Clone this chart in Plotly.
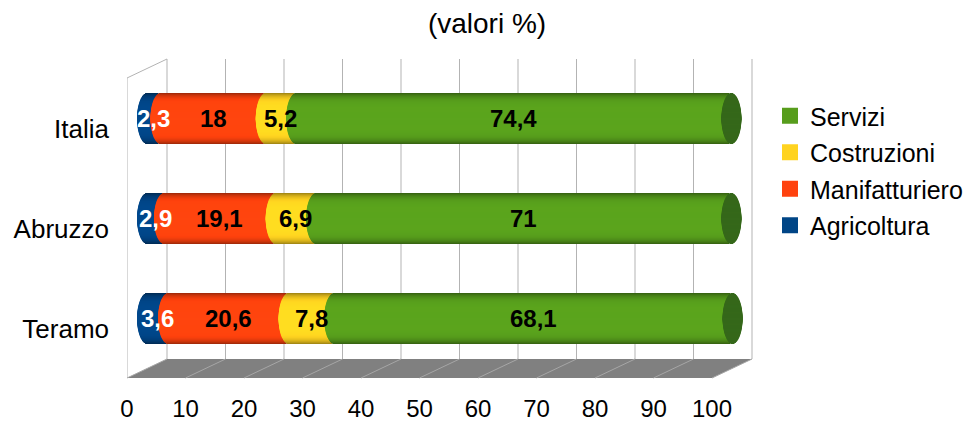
import numpy as np
import plotly.graph_objects as go

# ---- data -------------------------------------------------------------
categories = ["Teramo", "Abruzzo", "Italia"]          # bottom -> top
series_names = ["Agricoltura", "Manifatturiero", "Costruzioni", "Servizi"]
agricoltura = [3.6, 2.9, 2.3]
manifatturiero = [20.6, 19.1, 18.0]
costruzioni = [7.8, 6.9, 5.2]
servizi = [68.1, 71.0, 74.4]
x_ticks = list(range(0, 101, 10))
title_text = "(valori %)"

series_values = [agricoltura, manifatturiero, costruzioni, servizi]

# ---- styles -----------------------------------------------------------
FONT = "Liberation Sans"
base_colors = ["#004586", "#ff420e", "#ffd320", "#579d1c"]
label_colors = ["white", "black", "black", "black"]
cap_color = "#35681a"
wall_color = "#b3b3b3"
floor_color = "#808080"
floor_line_color = "#a6a6a6"

# ---- geometry (pixels) -----------------------------------------------
W, H = 965, 423
M_L, M_R, M_T, M_B = 127, 212, 59, 45
PLOT_W = W - M_L - M_R
PLOT_H = H - M_T - M_B
PX_PER_UNIT = 5.85          # horizontal scale of the value axis
HALF_DEPTH_X = 20           # mid-plane offset from the front plane
DEPTH_Y = 19                # full vertical depth of the box
CAP_A_PX = 10               # horizontal semi-axis of the cylinder ends
BAR_W = 0.51                # bar thickness in category units
N_LEVELS = 26               # nested slices that build the cylinder shading

d = HALF_DEPTH_X / PX_PER_UNIT
x_lo = -d
x_hi = x_lo + PLOT_W / PX_PER_UNIT
fd = DEPTH_Y / PLOT_H
cap_a = CAP_A_PX / PX_PER_UNIT


def hex_to_rgb(h):
    h = h.lstrip("#")
    return np.array([int(h[i:i + 2], 16) for i in (0, 2, 4)], dtype=float)


def shade(hex_color, t):
    """Cylinder shading: bright centre, darker towards the rims."""
    m = 1.05 - 0.45 * t ** 6
    rgb = np.clip(hex_to_rgb(hex_color) * m, 0, 255).astype(int)
    return "rgb({},{},{})".format(*rgb)


fig = go.Figure()

# legend entries (listed top to bottom)
for name, col in reversed(list(zip(series_names, base_colors))):
    fig.add_trace(go.Scatter(
        x=[None], y=[None], mode="markers", name=name, legendgroup=name,
        marker=dict(symbol="square", size=16, color=col),
    ))

starts = np.zeros(len(categories))
levels = [(N_LEVELS - i) / N_LEVELS for i in range(N_LEVELS)]   # outer -> inner
step = 1.0 / N_LEVELS

for name, vals, col in zip(series_names, series_values, base_colors):
    vals = np.array(vals, dtype=float)
    for frac in levels:
        t = max(frac - step / 2, 0)
        dh = cap_a * np.sqrt(max(1 - t ** 2, 0))
        fig.add_trace(go.Bar(
            orientation="h",
            y=categories,
            x=vals,
            base=starts - dh,
            width=BAR_W * frac,
            marker=dict(color=shade(col, t), line=dict(width=0)),
            legendgroup=name,
            showlegend=False,
            hoverinfo="skip",
        ))
    starts = starts + vals

totals = starts.copy()
for frac in levels:
    t = max(frac - step / 2, 0)
    dh = cap_a * np.sqrt(max(1 - t ** 2, 0))
    fig.add_trace(go.Bar(
        orientation="h",
        y=categories,
        x=np.full(len(categories), 2 * dh),
        base=totals - dh,
        width=BAR_W * frac,
        marker=dict(color=cap_color, line=dict(width=0)),
        legendgroup="Servizi",
        showlegend=False,
        hoverinfo="skip",
    ))

# value labels
annotations = []
starts = np.zeros(len(categories))
for vals, lc in zip(series_values, label_colors):
    for cat, s, v in zip(categories, starts, vals):
        annotations.append(dict(
            x=s + v / 2, y=cat, xref="x", yref="y",
            text="<b>{}</b>".format(f"{v:g}".replace(".", ",")),
            showarrow=False, font=dict(family=FONT, size=24, color=lc),
        ))
    starts = starts + np.array(vals)

# 3D box: back wall grid, left wall, floor
shapes = []
shapes.append(dict(
    type="path", xref="x", yref="paper", layer="below",
    path=f"M {-d},0 L {d},{fd} L {100 + d},{fd} L {100 - d},0 Z",
    fillcolor=floor_color, line=dict(width=0),
))
for v in x_ticks:
    shapes.append(dict(type="line", xref="x", yref="paper", layer="below",
                       x0=v + d, x1=v + d, y0=fd, y1=1,
                       line=dict(color=wall_color, width=1)))
    shapes.append(dict(type="line", xref="x", yref="paper", layer="below",
                       x0=v - d, x1=v + d, y0=0, y1=fd,
                       line=dict(color=floor_line_color, width=1)))
shapes.append(dict(type="line", xref="x", yref="paper", layer="below",
                   x0=-d, x1=-d, y0=0, y1=1 - fd,
                   line=dict(color=wall_color, width=1)))
shapes.append(dict(type="line", xref="x", yref="paper", layer="below",
                   x0=-d, x1=d, y0=1 - fd, y1=1,
                   line=dict(color=wall_color, width=1)))

fig.update_layout(
    width=W, height=H,
    margin=dict(l=M_L, r=M_R, t=M_T, b=M_B, pad=0, autoexpand=False),
    paper_bgcolor="white", plot_bgcolor="rgba(0,0,0,0)",
    barmode="overlay",
    font=dict(family=FONT, color="black"),
    title=dict(text=title_text, x=487 / W, xref="container", xanchor="center",
               y=1 - 23 / H, yref="container", yanchor="middle",
               font=dict(family=FONT, size=28, color="black")),
    xaxis=dict(range=[x_lo, x_hi], showgrid=False, zeroline=False,
               showticklabels=False, showline=False, fixedrange=True,
               automargin=False),
    xaxis2=dict(range=[x_lo + d, x_hi + d], overlaying="x", anchor="y",
                side="bottom", tickmode="array", tickvals=x_ticks,
                ticktext=[str(v) for v in x_ticks], showgrid=False,
                zeroline=False, showline=False, ticks="",
                ticklabelstandoff=14, automargin=False,
                tickfont=dict(family=FONT, size=24, color="black")),
    yaxis=dict(type="category", categoryorder="array", categoryarray=categories,
               range=[-0.595, 2.595], showgrid=False, zeroline=False,
               showline=False, ticks="", ticklabelshift=10,
               ticklabelstandoff=17, automargin=False,
               tickfont=dict(family=FONT, size=26, color="black")),
    legend=dict(x=(770 - M_L) / PLOT_W, xanchor="left",
                y=(PLOT_H + M_T - 93) / PLOT_H, yanchor="top",
                traceorder="grouped", tracegroupgap=1,
                font=dict(family=FONT, size=25, color="black"),
                bgcolor="rgba(0,0,0,0)"),
    annotations=annotations,
    shapes=shapes,
)

# make sure the tick-label axis is drawn
fig.add_trace(go.Scatter(x=[None], y=[None], xaxis="x2", yaxis="y",
                         showlegend=False, hoverinfo="skip"))

fig.write_html("out.html")
